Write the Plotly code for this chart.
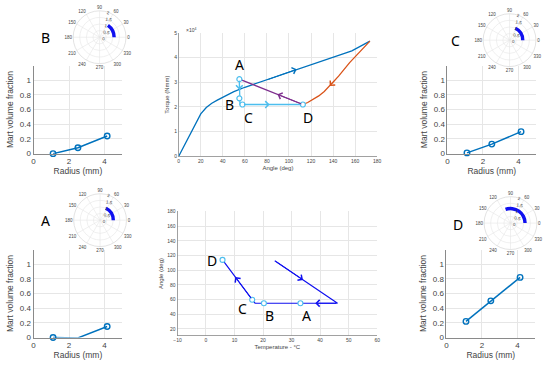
import plotly.graph_objects as go

W, H = 550, 367

def dx(x0, x1):
    return [x0 / W, x1 / W]

def dy(y0, y1):
    return [1 - y1 / H, 1 - y0 / H]

# ---------------- data ----------------
radius_mm = [1.1, 2.5, 4.15]
mart_A = [0.0, -0.005, 0.15]
mart_B = [0.0, 0.08, 0.24]
mart_C = [0.01, 0.13, 0.30]
mart_D = [0.22, 0.50, 0.82]

# polar arcs: start angle, end angle (deg), radius
arc_A = (0, 64, 1.0)
arc_B = (0, 55, 1.1)
arc_C = (0, 64, 1.0)
arc_D = (0, 110, 1.1)

# torque-angle (torque in units of 1e4 Nmm)
load_angle = [0, 20, 25, 30, 35, 40, 50, 60, 80, 107, 157, 173.4]
load_torque = [0, 1.72, 1.98, 2.15, 2.28, 2.4, 2.62, 2.8, 3.1, 3.53, 4.28, 4.67]
unload_angle = [173.4, 165, 155, 145, 137, 132, 127, 122, 117, 112.6]
unload_torque = [4.67, 4.27, 3.8, 3.25, 2.85, 2.63, 2.45, 2.3, 2.18, 2.1]
da_angle = [112.6, 55]
da_torque = [2.1, 3.13]
abcd_angle = [55, 55, 55.5, 57.8, 112.6]
abcd_torque = [3.13, 2.35, 2.1, 2.1, 2.1]
abcd_mark_angle = [55, 55, 57.8, 112.6]
abcd_mark_torque = [3.13, 2.35, 2.1, 2.1]

# temperature-angle path
temp_c = [24.1, 46.1, 33.1, 20.3, 17.2, 16.2, 5.8]
temp_angle = [112.8, 55, 55, 55, 55, 59.8, 114]
temp_mark_c = [33.1, 20.3, 16.2, 5.8]
temp_mark_angle = [55, 55, 59.8, 114]

C_BLUE = '#0072BD'
C_ORANGE = '#D95319'
C_PURPLE = '#7E2F8E'
C_LBLUE = '#4DBEEE'
C_PURE = '#1010F0'
GRID = '#e6e6e6'
AX = '#8a8a8a'
TXT = '#444444'
FONT = 'Liberation Sans'

fig = go.Figure()

# ---------------- small radius plots ----------------
small = [
    ('x', 'y', mart_B),
    ('x3', 'y3', mart_C),
    ('x4', 'y4', mart_A),
    ('x6', 'y6', mart_D),
]
for xa, ya, vals in small:
    fig.add_trace(go.Scatter(x=radius_mm, y=vals, mode='lines', xaxis=xa, yaxis=ya,
                             line=dict(color=C_BLUE, width=1.5), showlegend=False))
    mx = [r for r, v in zip(radius_mm, vals) if v >= 0]
    my = [v for v in vals if v >= 0]
    fig.add_trace(go.Scatter(x=mx, y=my, mode='markers', xaxis=xa, yaxis=ya, cliponaxis=False,
                             marker=dict(symbol='circle-open', size=5.5, color=C_BLUE,
                                         line=dict(width=1.4, color=C_BLUE)), showlegend=False))

def small_axes(n, xd, yd):
    sx = '' if n == 1 else str(n)
    xk = 'xaxis' + sx
    yk = 'yaxis' + sx
    fig.layout[xk] = dict(domain=xd, anchor='y' + sx, range=[0, 5], tickvals=[0, 2, 4],
                          showgrid=True, gridcolor=GRID, showline=True, linecolor=AX, linewidth=1,
                          zeroline=False, ticks='', tickfont=dict(size=8, color=TXT, family=FONT),
                          title=dict(text='Radius (mm)', font=dict(size=8.5, color=TXT, family=FONT),
                                     standoff=1))
    fig.layout[yk] = dict(domain=yd, anchor='x' + sx, range=[0, 1.2],
                          tickvals=[0, 0.2, 0.4, 0.6, 0.8, 1],
                          ticktext=['0', '0.2', '0.4', '0.6', '0.8', '1'],
                          showgrid=True, gridcolor=GRID, showline=True, linecolor=AX, linewidth=1,
                          zeroline=False, ticks='', tickfont=dict(size=8, color=TXT, family=FONT),
                          title=dict(text='Mart volume fraction',
                                     font=dict(size=8.5, color=TXT, family=FONT), standoff=4))

small_axes(1, dx(30, 120), dy(64, 154))
small_axes(3, dx(450, 540), dy(64, 154))
small_axes(4, dx(30, 120), dy(252, 342))
small_axes(6, dx(449, 539), dy(252, 342))

# ---------------- polar plots ----------------
PR = 27  # half-size of polar domain in px
polars = [
    ('polar', arc_B, (97, 35)),
    ('polar2', arc_C, (513, 38)),
    ('polar3', arc_A, (97.5, 222)),
    ('polar4', arc_D, (514, 225)),
]
THICK = 0.26
for sp, arc, (cx, cy) in polars:
    a0, a1, rr = arc
    fig.add_trace(go.Barpolar(r=[THICK], base=[rr - THICK / 2], theta=[(a0 + a1) / 2],
                              width=[a1 - a0], subplot=sp, marker=dict(color=C_PURE, line=dict(width=0)),
                              showlegend=False))
    fig.layout[sp] = dict(
        domain=dict(x=dx(cx - PR, cx + PR), y=dy(cy - PR, cy + PR)), bgcolor='white',
        radialaxis=dict(range=[0, 2], tickvals=[0, 0.5, 1, 1.5, 2],
                        ticktext=['0', '0.5', '1', '1.5', '2'], angle=80, showline=False, ticks='',
                        tickfont=dict(size=4.5, color=TXT, family=FONT), gridcolor=GRID, gridwidth=0.6),
        angularaxis=dict(tickmode='array', tickvals=list(range(0, 360, 30)),
                         ticktext=[str(v) for v in range(0, 360, 30)], direction='counterclockwise',
                         rotation=0, ticks='', tickfont=dict(size=4.5, color=TXT, family=FONT),
                         gridcolor=GRID, gridwidth=0.6, linecolor='#d0d0d0', linewidth=0.6),
    )

# ---------------- torque vs angle ----------------
fig.add_trace(go.Scatter(x=load_angle, y=load_torque, mode='lines', xaxis='x2', yaxis='y2',
                         line=dict(color=C_BLUE, width=1.3), showlegend=False))
fig.add_trace(go.Scatter(x=unload_angle, y=unload_torque, mode='lines', xaxis='x2', yaxis='y2',
                         line=dict(color=C_ORANGE, width=1.3), showlegend=False))
fig.add_trace(go.Scatter(x=da_angle, y=da_torque, mode='lines', xaxis='x2', yaxis='y2',
                         line=dict(color=C_PURPLE, width=1.3), showlegend=False))
fig.add_trace(go.Scatter(x=abcd_angle, y=abcd_torque, mode='lines', xaxis='x2', yaxis='y2',
                         line=dict(color=C_LBLUE, width=1.3), showlegend=False))
fig.add_trace(go.Scatter(x=abcd_mark_angle, y=abcd_mark_torque, mode='markers', xaxis='x2', yaxis='y2',
                         marker=dict(symbol='circle', size=5, color='white',
                                     line=dict(width=1.2, color=C_LBLUE)), showlegend=False))

# ---------------- angle vs temperature ----------------
fig.add_trace(go.Scatter(x=temp_c, y=temp_angle, mode='lines', xaxis='x5', yaxis='y5',
                         line=dict(color=C_PURE, width=1.2), showlegend=False))
fig.add_trace(go.Scatter(x=temp_mark_c, y=temp_mark_angle, mode='markers', xaxis='x5', yaxis='y5',
                         marker=dict(symbol='circle', size=5, color='white',
                                     line=dict(width=1.1, color=C_LBLUE)), showlegend=False))

def mid_axes(n, xd, yd, xr, xt, yr, yt, xtitle, ytitle):
    fig.layout['xaxis%d' % n] = dict(domain=xd, anchor='y%d' % n, range=xr, tickvals=xt,
                                     showgrid=True, gridcolor=GRID, showline=True, linecolor=AX,
                                     linewidth=0.8, zeroline=False, ticks='',
                                     tickfont=dict(size=5, color=TXT, family=FONT),
                                     title=dict(text=xtitle, font=dict(size=6, color=TXT, family=FONT),
                                                standoff=2))
    fig.layout['yaxis%d' % n] = dict(domain=yd, anchor='x%d' % n, range=yr, tickvals=yt,
                                     showgrid=True, gridcolor=GRID, showline=True, linecolor=AX,
                                     linewidth=0.8, zeroline=False, ticks='',
                                     tickfont=dict(size=5, color=TXT, family=FONT),
                                     title=dict(text=ytitle, font=dict(size=6, color=TXT, family=FONT),
                                                standoff=3))

mid_axes(2, dx(177.3, 378.7), dy(30.7, 156.7), [0, 180], list(range(0, 181, 20)),
         [0, 5], [0, 1, 2, 3, 4, 5], 'Angle (deg)', 'Torque (Nmm)')
mid_axes(5, dx(176, 378.7), dy(213, 340), [-10, 60], list(range(-10, 61, 10)),
         [11, 180], list(range(20, 181, 20)), 'Temperature - °C', 'Angle (deg)')

# ---------------- arrows (placed along data segments) ----------------
def arrow_on(xs, ys, i, t, xr, yr, color):
    x0, y0 = xs[i], ys[i]
    x1, y1 = xs[i + 1], ys[i + 1]
    hx, hy = x0 + t * (x1 - x0), y0 + t * (y1 - y0)
    fig.add_annotation(x=hx, y=hy, ax=x0, ay=y0, xref=xr, yref=yr, axref=xr, ayref=yr,
                       text='', showarrow=True, arrowhead=4, arrowsize=1.3, arrowwidth=1,
                       arrowcolor=color, standoff=0, startstandoff=0)

arrow_on(load_angle, load_torque, 8, 1.0, 'x2', 'y2', C_BLUE)
arrow_on(unload_angle, unload_torque, 3, 1.0, 'x2', 'y2', C_ORANGE)
arrow_on(da_angle, da_torque, 0, 0.4, 'x2', 'y2', C_PURPLE)
arrow_on(abcd_angle, abcd_torque, 0, 0.55, 'x2', 'y2', C_LBLUE)
arrow_on(abcd_angle, abcd_torque, 3, 0.45, 'x2', 'y2', C_LBLUE)
arrow_on(temp_c, temp_angle, 0, 0.45, 'x5', 'y5', C_PURE)
arrow_on(temp_c, temp_angle, 1, 0.6, 'x5', 'y5', C_PURE)
arrow_on(temp_c, temp_angle, 5, 0.57, 'x5', 'y5', C_PURE)

# ---------------- labels ----------------
BIG = dict(size=14, color='black', family='Noto Sans')
def big(text, x, y, xr='paper', yr='paper'):
    fig.add_annotation(text=text, x=x, y=y, xref=xr, yref=yr, showarrow=False, font=BIG,
                       xanchor='center', yanchor='middle')

big('B', 42 / W, 1 - 35 / H)
big('C', 458 / W, 1 - 38 / H)
big('A', 42 / W, 1 - 222 / H)
big('D', 461 / W, 1 - 226 / H)

big('A', 54.7, 3.72, 'x2', 'y2')
big('B', 45.7, 2.09, 'x2', 'y2')
big('C', 63.6, 1.58, 'x2', 'y2')
big('D', 117.6, 1.58, 'x2', 'y2')

big('D', 2.1, 112.9, 'x5', 'y5')
big('C', 12.8, 47.6, 'x5', 'y5')
big('B', 22.1, 38.3, 'x5', 'y5')
big('A', 35.2, 38.3, 'x5', 'y5')

fig.add_annotation(text='×10<sup>4</sup>', x=183 / W, y=1 - 23 / H, xref='paper', yref='paper',
                   showarrow=False, font=dict(size=5, color=TXT, family=FONT))

fig.update_layout(width=W, height=H, margin=dict(l=0, r=0, t=0, b=0),
                  paper_bgcolor='white', plot_bgcolor='white', showlegend=False)

fig.write_html('out.html', config={'displayModeBar': False, 'staticPlot': True},
               post_script="document.body.style.margin='0px';")
